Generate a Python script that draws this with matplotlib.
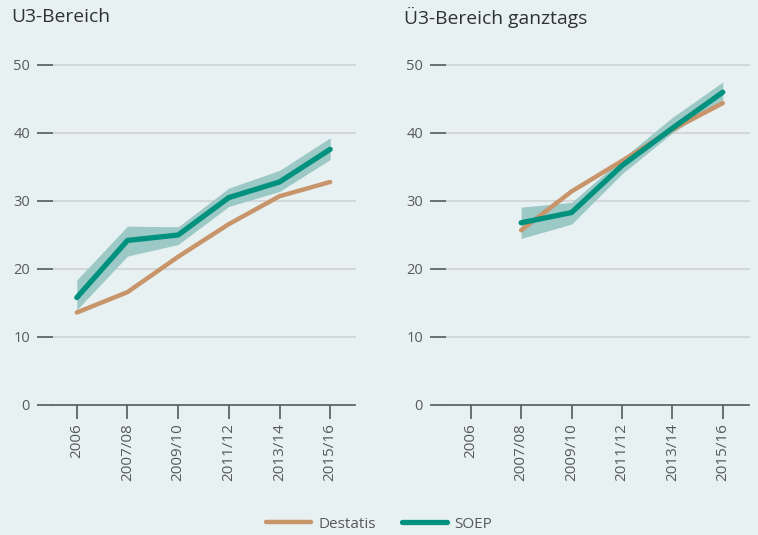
import matplotlib
matplotlib.use("Agg")
import matplotlib.pyplot as plt
import numpy as np

plt.rcParams['font.family'] = ['Open Sans', 'DejaVu Sans']

years = ["2006", "2007/08", "2009/10", "2011/12", "2013/14", "2015/16"]

# U3-Bereich
u3_destatis = [13.6, 16.6, 21.8, 26.6, 30.7, 32.8]
u3_soep = [15.8, 24.2, 25.0, 30.5, 32.8, 37.6]
u3_soep_lo = [14.0, 21.9, 23.6, 29.2, 31.4, 36.1]
u3_soep_hi = [18.4, 26.3, 26.2, 31.9, 34.5, 39.3]

# Ü3-Bereich ganztags (no value for 2006)
ue3_destatis = [np.nan, 25.7, 31.4, 35.9, 40.5, 44.4]
ue3_soep = [np.nan, 26.8, 28.3, 35.2, 40.7, 46.0]
ue3_soep_lo = [np.nan, 24.5, 26.6, 34.0, 40.0, 44.9]
ue3_soep_hi = [np.nan, 29.1, 29.8, 36.2, 42.3, 47.5]

bg = '#e8f1f2'
teal = '#00917f'
tan = '#c8946a'
band = '#9cc8c5'
grey = '#555a5c'
gridc = '#d2d8da'

fig = plt.figure(figsize=(7.58, 5.35), dpi=100)
fig.patch.set_facecolor(bg)

def panel(rect, title, destatis, soep, lo, hi, xlim):
    ax = fig.add_axes(rect)
    ax.set_facecolor(bg)
    x = np.arange(len(years))
    ax.fill_between(x, lo, hi, color=band, linewidth=0, zorder=2)
    ax.plot(x, destatis, color=tan, linewidth=3.2, solid_capstyle='round', zorder=3, label='Destatis')
    ax.plot(x, soep, color=teal, linewidth=3.8, solid_capstyle='round', zorder=4, label='SOEP')
    ax.set_ylim(0, 50)
    ax.set_xlim(*xlim)
    ax.set_yticks([0, 10, 20, 30, 40, 50])
    ax.set_xticks(x)
    ax.set_xticklabels(years, rotation=90)
    for yv in [10, 20, 30, 40, 50]:
        ax.axhline(yv, color=gridc, linewidth=1.5, zorder=1)
    for s in ['top', 'right', 'left']:
        ax.spines[s].set_visible(False)
    ax.spines['bottom'].set_color(grey)
    ax.spines['bottom'].set_linewidth(1.2)
    ax.tick_params(axis='y', length=11.5, width=1.2, color=grey, labelcolor=grey,
                   labelsize=10.5, pad=5)
    ax.tick_params(axis='x', length=10, width=1.2, color=grey, labelcolor=grey,
                   labelsize=11, pad=3)
    for line in ax.get_lines():
        line.set_clip_on(False)
    ax.text(-42 / 302, 1.14, title, transform=ax.transAxes,
            fontsize=13.9, color='#2e3234', ha='left', va='center')
    return ax

panel([53 / 758, 130 / 535, 302 / 758, 340 / 535], "U3-Bereich",
      u3_destatis, u3_soep, u3_soep_lo, u3_soep_hi, (-0.47, 5.49))
ax2 = panel([446 / 758, 130 / 535, 303 / 758, 340 / 535], "Ü3-Bereich ganztags",
            ue3_destatis, ue3_soep, ue3_soep_lo, ue3_soep_hi, (-0.49, 5.52))

handles, labels = ax2.get_legend_handles_labels()
leg = fig.legend(handles, labels, loc='center', bbox_to_anchor=(0.5, 11 / 535), ncol=2,
                 frameon=False, handlelength=2.95, columnspacing=1.75, handletextpad=0.45,
                 fontsize=11)
for t in leg.get_texts():
    t.set_color(grey)

fig.savefig("out.png", dpi=100, facecolor=bg)
